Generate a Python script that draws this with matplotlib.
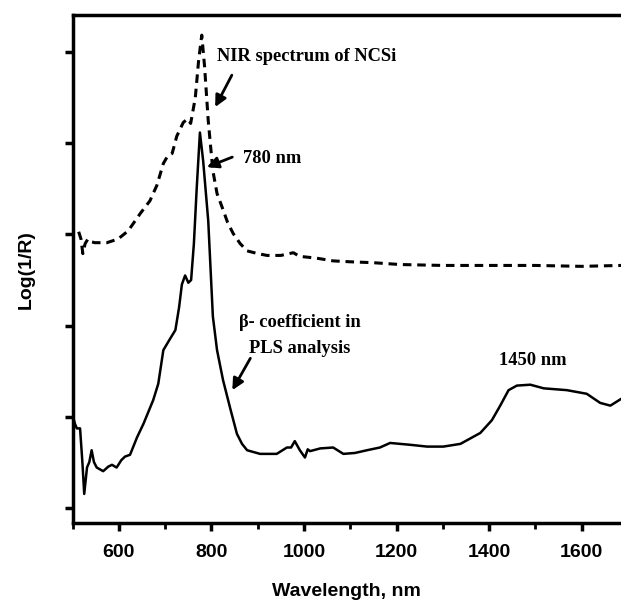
import matplotlib
matplotlib.use("Agg")
import matplotlib.pyplot as plt
from matplotlib.ticker import MultipleLocator, NullFormatter

# espectro NIR (linea discontinua)
wl_nir = [513, 518, 522, 527, 533, 540, 548, 574, 598, 620, 646, 667, 682, 696, 705,
          715, 725, 739, 748, 755, 765, 772, 779, 785, 793, 803, 812, 823, 835, 847,
          862, 877, 900, 920, 950, 977, 990, 1027, 1063, 1100, 1150, 1208, 1300, 1424,
          1500, 1600, 1685]
nir = [3.03, 2.95, 2.79, 2.90, 2.95, 2.92, 2.91, 2.91, 2.95, 3.04, 3.23, 3.37, 3.54, 3.78, 3.86,
       3.89, 4.08, 4.23, 4.27, 4.22, 4.50, 4.90, 5.19, 4.85, 4.25, 3.70, 3.45, 3.30, 3.13, 3.01,
       2.90, 2.82, 2.79, 2.77, 2.77, 2.80, 2.76, 2.74, 2.71, 2.70, 2.69, 2.67, 2.66, 2.66,
       2.66, 2.65, 2.66]

# coeficiente beta PLS (linea continua)
wl_beta = [500, 505, 509, 516, 521, 525, 531, 536, 541, 546, 552, 566, 577, 585, 595,
           605, 613, 624, 639, 653, 674, 685, 696, 710, 722, 730, 736, 743, 750, 756,
           762, 768, 775, 782, 793, 803, 812, 825, 840, 855, 866, 877, 905, 941, 963,
           972, 980, 991, 1002, 1008, 1013, 1035, 1063, 1085, 1110, 1136, 1164, 1186, 1229, 1266,
           1301, 1338, 1381, 1406, 1424, 1442, 1460, 1489, 1518, 1568, 1611, 1640, 1662, 1684]
beta = [1.01, 0.92, 0.87, 0.87, 0.50, 0.15, 0.44, 0.50, 0.63, 0.50, 0.44, 0.40, 0.45, 0.47, 0.44,
        0.52, 0.56, 0.58, 0.77, 0.92, 1.18, 1.36, 1.73, 1.85, 1.95, 2.20, 2.45, 2.55, 2.47, 2.50,
        2.90, 3.50, 4.12, 3.81, 3.15, 2.10, 1.73, 1.40, 1.10, 0.81, 0.70, 0.63, 0.59, 0.59, 0.66,
        0.66, 0.73, 0.63, 0.55, 0.64, 0.62, 0.65, 0.66, 0.59, 0.60, 0.63, 0.66, 0.71, 0.69, 0.67,
        0.67, 0.70, 0.82, 0.96, 1.12, 1.29, 1.34, 1.35, 1.31, 1.29, 1.25, 1.15, 1.12, 1.19]

fig = plt.figure(figsize=(6.21, 6.04), dpi=100)
ax = fig.add_axes([0.117, 0.134, 0.883, 0.841])

ax.plot(wl_nir, nir, color='black', lw=2.2, dashes=(2.8, 1.9))
ax.plot(wl_beta, beta, color='black', lw=1.8)

ax.set_xlim(500, 1685)
ax.set_ylim(-0.17, 5.41)

ax.xaxis.set_major_locator(MultipleLocator(200))
ax.xaxis.set_minor_locator(MultipleLocator(100))
ax.yaxis.set_major_locator(MultipleLocator(1))
ax.yaxis.set_major_formatter(NullFormatter())

for s in ['left', 'bottom', 'top']:
    ax.spines[s].set_linewidth(2.5)
ax.spines['right'].set_visible(False)

ax.tick_params(axis='x', which='major', direction='out', length=6, width=2.5,
               labelsize=14, pad=9)
ax.tick_params(axis='x', which='minor', direction='out', length=4, width=2)
ax.tick_params(axis='y', which='major', direction='out', length=6, width=2.5)
for lb in ax.get_xticklabels():
    lb.set_fontweight('bold')
    lb.set_family('Liberation Sans')

ax.set_xlabel('Wavelength, nm', fontsize=14, fontweight='bold', family='Liberation Sans', labelpad=16)
ax.set_ylabel('Log(1/R)', fontsize=14, fontweight='bold', family='Liberation Sans', labelpad=18)

serif = dict(fontsize=13.3, fontweight='bold', family='Liberation Serif')
flecha = dict(arrowstyle='-|>', color='black', lw=2, mutation_scale=17, shrinkA=0, shrinkB=0)

# flechas (cola -> punta)
ax.annotate('', xy=(808, 4.40), xytext=(844, 4.75), arrowprops=flecha)
ax.annotate('', xy=(790, 3.74), xytext=(845, 3.85), arrowprops=flecha)
ax.annotate('', xy=(845, 1.29), xytext=(884, 1.64), arrowprops=flecha)

ax.text(812, 4.95, 'NIR spectrum of NCSi', va='center', ha='left', **serif)
ax.text(868, 3.84, '780 nm', va='center', ha='left', **serif)
ax.text(990, 1.89, '\u03b2- coefficient in\nPLS analysis', va='center', ha='center',
        multialignment='center', linespacing=1.75, **serif)
ax.text(1494, 1.62, '1450 nm', va='center', ha='center', **serif)

fig.savefig('out.png', dpi=100)
